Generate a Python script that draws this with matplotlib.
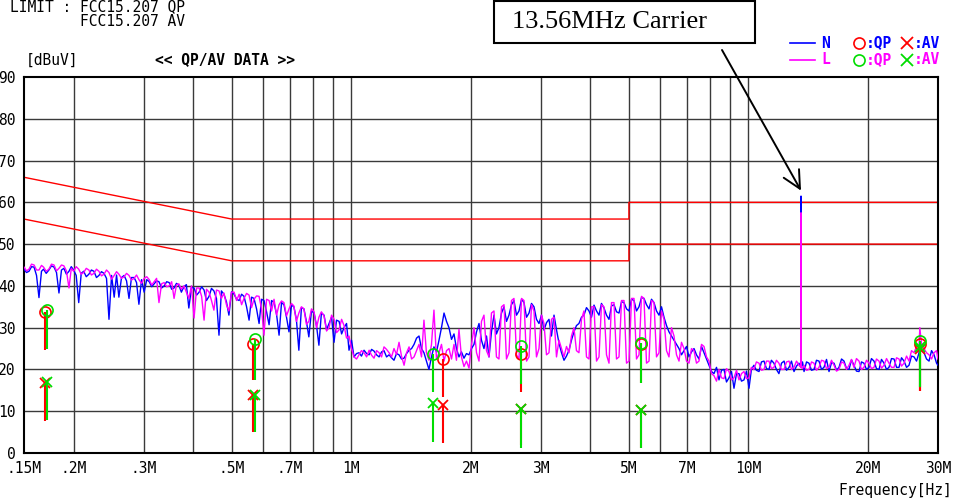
import matplotlib
matplotlib.use("Agg")
import matplotlib.pyplot as plt
from matplotlib.patches import Rectangle
from matplotlib.ticker import NullLocator

# ---- conducted emission scan, frequencies in MHz, levels in dBuV ----
FREQ = [
    # 0.15 - 1 MHz
    0.150, 0.1522, 0.1544, 0.1567, 0.159, 0.1613, 0.1636, 0.166, 0.168, 0.1706,
    0.1733, 0.1759, 0.1785, 0.1811, 0.1837, 0.1864, 0.189, 0.1918, 0.1947, 0.1973,
    0.200, 0.203, 0.206, 0.209, 0.212, 0.2152, 0.2185, 0.2217, 0.225, 0.2283,
    0.2316, 0.235, 0.2385, 0.242, 0.2455, 0.2492, 0.253, 0.2565, 0.260, 0.264,
    0.268, 0.2718, 0.2757, 0.2797, 0.284, 0.288, 0.292, 0.2965, 0.301, 0.3055,
    0.310, 0.3145, 0.319, 0.3235, 0.328, 0.333, 0.338, 0.343, 0.348, 0.353,
    0.358, 0.363, 0.368, 0.3735, 0.379, 0.3845, 0.390, 0.396, 0.402, 0.408,
    0.414, 0.420, 0.426, 0.432, 0.4385, 0.4447, 0.451, 0.4577, 0.4645, 0.471,
    0.478, 0.485, 0.492, 0.4995, 0.507, 0.5145, 0.522, 0.5295, 0.537, 0.545,
    0.553, 0.561, 0.569, 0.5775, 0.586, 0.5945, 0.603, 0.612, 0.621, 0.630,
    0.639, 0.6485, 0.658, 0.6675, 0.677, 0.687, 0.697, 0.707, 0.717, 0.7275,
    0.738, 0.749, 0.760, 0.771, 0.782, 0.794, 0.806, 0.8175, 0.829, 0.841,
    0.854, 0.8665, 0.879, 0.892, 0.905, 0.918, 0.932, 0.9455, 0.959, 0.973,
    0.987, 1.0015,
    # 1 - 2 MHz
    1.016, 1.031, 1.046, 1.061, 1.077, 1.093, 1.109, 1.125, 1.141, 1.158,
    1.175, 1.192, 1.209, 1.227, 1.245, 1.263, 1.281, 1.300, 1.319, 1.338,
    1.358, 1.378, 1.398, 1.4185, 1.439, 1.460, 1.481, 1.5025, 1.524, 1.546,
    1.569, 1.592, 1.615, 1.639, 1.663, 1.687, 1.712, 1.737, 1.762, 1.788,
    1.814, 1.840, 1.867, 1.894, 1.922, 1.950, 1.979, 2.008,
    # 2 - 3.6 MHz
    2.037, 2.067, 2.097, 2.127, 2.158, 2.190, 2.222, 2.254, 2.287, 2.320,
    2.354, 2.389, 2.424, 2.459, 2.495, 2.531, 2.568, 2.606, 2.644, 2.683,
    2.722, 2.762, 2.802, 2.843, 2.884, 2.926, 2.969, 3.012, 3.056, 3.101,
    3.146, 3.192, 3.239, 3.286, 3.334, 3.383, 3.432, 3.482, 3.533, 3.584,
    # 3.6 - 8 MHz
    3.636, 3.689, 3.743, 3.798, 3.853, 3.910, 3.967, 4.025, 4.084, 4.144,
    4.204, 4.265, 4.328, 4.391, 4.455, 4.520, 4.586, 4.653, 4.721, 4.790,
    4.860, 4.931, 5.003, 5.076, 5.150, 5.225, 5.301, 5.378, 5.457, 5.537,
    5.618, 5.700, 5.783, 5.867, 5.953, 6.040, 6.128, 6.218, 6.308, 6.400,
    6.494, 6.589, 6.685, 6.782, 6.881, 6.982, 7.084, 7.187, 7.292, 7.398,
    7.506, 7.616, 7.727, 7.840, 7.955, 8.071,
    # 8 - 10 MHz
    8.188, 8.308, 8.429, 8.552, 8.676, 8.803, 8.932, 9.062, 9.194, 9.329,
    9.465, 9.603, 9.742, 9.885, 10.03, 10.17,
    # 10 - 13.7 MHz (carrier)
    10.32, 10.47, 10.63, 10.78, 10.94, 11.10, 11.26, 11.42, 11.59, 11.76,
    11.93, 12.11, 12.29, 12.47, 12.65, 12.83, 13.02, 13.21, 13.40,
    13.55, 13.56, 13.57, 13.68,
    # 13.8 - 30 MHz
    13.80, 14.00, 14.20, 14.41, 14.62, 14.83, 15.05, 15.27, 15.49, 15.72,
    15.95, 16.18, 16.42, 16.66, 16.90, 17.15, 17.40, 17.65, 17.91, 18.17,
    18.43, 18.70, 18.98, 19.25, 19.53, 19.82, 20.11, 20.40, 20.70, 21.00,
    21.31, 21.62, 21.94, 22.26, 22.58, 22.91, 23.25, 23.59, 23.93, 24.28,
    24.64, 25.00, 25.36, 25.73, 26.11, 26.49, 26.88, 27.0, 27.27, 27.67,
    28.07, 28.48, 28.90, 29.32, 29.75, 30.0,
]

LEVEL_N = [
    44, 43.2, 43.5, 44.6, 44.5, 42.5, 37.2, 43.5, 44, 43,
    43.8, 44.8, 44.5, 43.2, 38.3, 43.8, 44.2, 42.8, 43.5, 44.6,
    43.8, 42.5, 36, 43, 43.5, 42.2, 42.8, 43.8, 43.5, 42,
    42.5, 43.4, 43, 41.8, 32, 42.5, 37.3, 42.6, 37.3, 42,
    42.5, 41.2, 37, 42, 42, 40.8, 35.6, 41.5, 38.5, 41.5,
    41, 39.8, 40.5, 41.2, 41, 39.5, 40, 41, 40.8, 39.2,
    39.5, 40.6, 40.2, 38.5, 39.8, 40.3, 34.7, 39.6, 39.5, 37.8,
    38.5, 39.8, 39, 36.5, 37.5, 39.4, 38.8, 37, 28.2, 38.8,
    38, 36.2, 33, 38.6, 38, 36.8, 36.5, 38, 37.5, 35,
    31.8, 37.3, 37, 34.5, 31, 36.8, 36.5, 33.8, 30.7, 36.5,
    36, 33.2, 28.2, 36, 35.5, 32.5, 29, 35.4, 35, 32,
    24.6, 34.8, 34.5, 31.5, 27.8, 34, 33.5, 30.5, 25.8, 33.5,
    33, 29.5, 31, 32.5, 26.5, 31.8, 31.5, 28.5, 30, 31,
    24.6, 27,
    23, 23.8, 24, 23.2, 24.6, 23.8, 23.5, 24.8, 24.4, 23.5,
    23, 24.2, 24.5, 23, 23.5, 22.8, 22.2, 23.8, 23.5, 22.5,
    22.7, 23.8, 24.6, 25, 26, 27.5, 28, 25, 24, 22,
    20, 23, 25.4, 24.2, 27, 30, 33.5, 31.5, 30, 27.2,
    28.5, 25, 23, 24.2, 22.7, 23.8, 23.5, 25,
    26, 29, 31, 27, 25, 28, 23, 29, 33, 28.5,
    30, 33.5, 35, 31.5, 33, 35.5, 36.5, 33, 34, 36.8,
    36, 32.5, 33.5, 35.8, 35, 32, 31, 33, 29.4, 31.2,
    32, 28, 33, 29.5, 26.3, 24, 22.2, 23.2, 24.6, 27,
    29, 30.5, 31, 32.5, 33, 34.8, 34, 32.5, 35.4, 34,
    33, 35.8, 34.7, 33, 32, 35.2, 35.5, 33.8, 33.5, 36.2,
    36, 34.5, 34, 36.8, 36.5, 34, 35, 37.2, 37, 35.5,
    34.5, 36.8, 36, 34, 33, 35, 32.5, 30.5, 29, 28,
    27, 26, 25, 23.5, 24.5, 25.5, 23, 24.2, 25, 23.5,
    22.5, 25.5, 24, 22.5, 21, 19.5,
    19, 20.5, 17.5, 19.8, 20, 17, 18, 19.5, 15.5, 19,
    19, 17.2, 17.5, 19.6, 15.5, 20,
    21, 19.8, 19.5, 21.8, 22, 20.2, 20, 22.2, 21.5, 20,
    19, 21.5, 22, 19.8, 20.5, 22, 19.5, 20.8, 21.5,
    20.5, 61.5, 20.5, 21.8,
    19.5, 21.8, 21.5, 19.8, 20, 22.2, 22, 20, 20.5, 22.4,
    19.5, 21.6, 21.5, 19.8, 20.5, 22.5, 22, 20.2, 20, 22.3,
    21, 19.6, 19.5, 21.8, 21.5, 20, 20.5, 22.6, 22, 20.2,
    20, 22.4, 21.5, 20, 20.5, 22.6, 22.5, 20.5, 20.5, 22.8,
    22, 20.5, 21, 23.2, 23, 22, 24, 26, 24.5, 24,
    22.5, 22, 24.5, 23.5, 21.5, 21,
]

LEVEL_L = [
    44.5, 43.6, 44, 45.2, 45, 43.8, 43.8, 44.9, 44.5, 43.5,
    44, 45.2, 45, 43.6, 44.2, 45, 44.8, 43.6, 39.5, 44.2,
    43.5, 44.6, 44, 42.8, 43.2, 44.2, 43.8, 42.6, 43, 44,
    43.5, 42.4, 42.8, 43.8, 43.2, 41.6, 42.5, 43.4, 42.8, 41.8,
    42.2, 43, 42.5, 41.4, 41.8, 42.6, 41.5, 40.6, 41.8, 42.2,
    41.5, 40.2, 41, 41.8, 36, 40.5, 40.8, 39.8, 40, 41,
    37, 40.2, 40.5, 39.2, 40, 38.5, 37, 40, 32.3, 39.5,
    39.5, 37.5, 31.8, 39.2, 38.5, 36.5, 34.2, 39, 38.8, 37,
    38.3, 35.5, 34, 38.5, 38.5, 36.5, 38, 35.5, 37, 38.2,
    37.8, 34.8, 36.8, 37.6, 37.5, 34.5, 28.2, 36.8, 36.5, 34,
    36.8, 33, 35.5, 36.4, 36, 32.8, 34.5, 35.8, 35.2, 31.5,
    33.5, 35, 34.5, 30.8, 31.5, 34.5, 33.8, 30, 32.5, 33.8,
    32.8, 29.2, 30, 33, 32, 28.8, 29.5, 32, 30.5, 27.5,
    28, 25,
    23, 22.5, 23.5, 24.5, 24, 23, 24.6, 23.4, 22.7, 24.5,
    24, 23, 25.4, 24.8, 24, 23, 25, 23.6, 26.5, 23.2,
    21, 24, 25.4, 22.5, 23, 24.5, 26, 23, 31.8, 24,
    22.2, 26, 34.2, 22.5, 24, 26, 22, 24.5, 25, 22.5,
    26, 22.2, 29.6, 23, 20.7, 22, 20.3, 26,
    30, 24, 22, 31.5, 33, 24.5, 23, 33.5, 34, 23,
    22.5, 35, 35.5, 22.5, 24, 36.5, 37, 23.5, 22.5, 37,
    36.5, 22, 23, 35.5, 34, 23, 25, 33, 31, 23.5,
    24, 32, 32.5, 23, 27, 25, 23, 25.5, 24, 28,
    30, 24.5, 24, 32, 34, 23, 22.5, 35, 35, 22,
    23, 35.5, 35, 23.5, 21.5, 36, 36, 22.5, 23, 36.5,
    36.5, 21.5, 22, 37, 37, 22.5, 23.5, 37.5, 37, 21.5,
    22, 36.5, 36, 23, 24, 34, 32, 24.5, 23, 30,
    28, 23.5, 22, 26.5, 25, 22, 21.5, 25, 24.5, 21.5,
    22, 26, 25.5, 23, 22, 19,
    18.5, 17.2, 20, 18, 17.8, 20.2, 19.5, 17.5, 18, 19.8,
    17.5, 19, 19.5, 17.8, 18, 20.5,
    20, 21.8, 21.5, 19.8, 20, 22, 22, 20.2, 20.5, 22.2,
    21.5, 20, 20, 21.8, 22, 20, 20.5, 22, 21,
    20.5, 57.5, 20.5, 20.2,
    21, 19.8, 20, 21.8, 21.5, 19.8, 20.5, 22.2, 22, 20.2,
    20.5, 22.2, 21, 19.6, 20, 21.8, 21.5, 20, 21, 22.4,
    20.5, 22.6, 22, 20, 20.5, 22.2, 21.5, 20.2, 20.5, 22.5,
    22, 20.3, 21, 22.6, 21.5, 20.5, 20.5, 22.8, 22.5, 20.8,
    21.5, 23.2, 22, 24.5, 24, 25.5, 25.5, 30, 26, 25,
    24, 23.5, 22.5, 24, 24.5, 22.5,
]

# FCC 15.207 limits
LIM_F = [0.15, 0.5, 5.0, 5.0, 30.0]
LIM_QP = [66, 56, 56, 60, 60]
LIM_AV = [56, 46, 46, 50, 50]

# final measurements: value and bottom of the bar under each mark
N_F = [0.1694, 0.567, 1.704, 2.67, 5.35, 27.0]
N_QP = [33.8, 26.1, 22.5, 23.8, 26.0, 26.1]
N_QP_BASE = [24.6, 17.5, 13.4, 14.7, 16.7, 14.9]
N_AV = [16.8, 14.0, 11.5, 10.5, 10.3, 25.0]
N_AV_BASE = [7.7, 5.1, 2.4, 1.9, 1.1, 14.9]

L_F = [0.1712, 0.571, 1.609, 2.67, 5.36, 27.05]
L_QP = [34.2, 27.3, 23.7, 25.7, 26.3, 26.9]
L_QP_BASE = [24.8, 17.5, 14.7, 16.5, 16.7, 15.8]
L_AV = [17.0, 14.0, 11.9, 10.5, 10.3, 25.3]
L_AV_BASE = [8.0, 5.1, 2.7, 1.2, 1.1, 15.8]

XT = [0.15, 0.2, 0.3, 0.5, 0.7, 1, 2, 3, 5, 7, 10, 20, 30]
XT_LABELS = [".15M", ".2M", ".3M", ".5M", ".7M", "1M", "2M", "3M",
             "5M", "7M", "10M", "20M", "30M"]
GRID_F = [0.2, 0.3, 0.4, 0.5, 0.6, 0.7, 0.8, 0.9, 1, 2, 3, 4, 5, 6, 7, 8, 9, 10, 20]
YT = [0, 10, 20, 30, 40, 50, 60, 70, 80, 90]

BLUE = "#0000ff"
MAG = "#ff00ff"
RED = "#ff0000"
GREEN = "#00dd00"
MONO = "DejaVu Sans Mono"
FS = 10.5

fig = plt.figure(figsize=(9.54, 5.0), dpi=100)
ax = fig.add_axes([24 / 954, 47 / 500, 914 / 954, 376 / 500])
ax.set_xscale("log")
ax.set_xlim(0.15, 30)
ax.set_ylim(0, 90)

for f in GRID_F:
    ax.axvline(f, color="#3a3a3a", lw=1.0, zorder=1)
for y in YT[1:-1]:
    ax.axhline(y, color="#3a3a3a", lw=1.0, zorder=1)

ax.plot(LIM_F, LIM_QP, color=RED, lw=1.0, zorder=2)
ax.plot(LIM_F, LIM_AV, color=RED, lw=1.0, zorder=2)

ax.plot(FREQ, LEVEL_N, color=BLUE, lw=1.0, zorder=3)
ax.plot(FREQ, LEVEL_L, color=MAG, lw=1.0, zorder=4)

def marks(freq, qp, qp_base, av, av_base, color, z):
    ax.vlines(freq, qp_base, qp, color=color, lw=1.5, zorder=z)
    ax.vlines(freq, av_base, av, color=color, lw=1.5, zorder=z)
    ax.plot(freq, qp, ls="none", marker="o", ms=8, mfc="none", mec=color, mew=1.2, zorder=z)
    ax.plot(freq, av, ls="none", marker="x", ms=7.5, mec=color, mew=1.3, zorder=z)

marks(N_F, N_QP, N_QP_BASE, N_AV, N_AV_BASE, RED, 5)
marks(L_F, L_QP, L_QP_BASE, L_AV, L_AV_BASE, GREEN, 6)

ax.set_xticks(XT)
ax.set_xticklabels(XT_LABELS, family=MONO, fontsize=FS)
ax.xaxis.set_minor_locator(NullLocator())
ax.set_yticks(YT)
ax.set_yticklabels([str(v) for v in YT], family=MONO, fontsize=FS)
ax.tick_params(length=0, pad=6)
for s in ax.spines.values():
    s.set_color("black")
    s.set_linewidth(1.5)

# carrier arrow
ax.annotate("", xy=(13.56, 62.8), xytext=(722, 450), textcoords="figure pixels",
            arrowprops=dict(arrowstyle="->,head_length=0.7,head_width=0.35",
                            color="black", lw=1.4, shrinkA=0, shrinkB=0,
                            mutation_scale=18),
            annotation_clip=False)

# page furniture in pixel coordinates
ov = fig.add_axes([0, 0, 1, 1])
ov.set_xlim(0, 954)
ov.set_ylim(500, 0)
ov.axis("off")
ov.patch.set_alpha(0)

ov.text(10, 7, "LIMIT : FCC15.207 QP", family=MONO, fontsize=FS, va="center")
ov.text(80, 21, "FCC15.207 AV", family=MONO, fontsize=FS, va="center")
ov.text(26, 60, "[dBuV]", family=MONO, fontsize=FS, va="center")
ov.text(155, 60, "<< QP/AV DATA >>", family=MONO, fontsize=FS, va="center",
        weight="bold")
ov.text(952, 490, "Frequency[Hz]", family=MONO, fontsize=FS, va="center", ha="right")

ov.add_patch(Rectangle((494, 1), 261, 42, fill=True, fc="white", ec="black", lw=1.5))
ov.text(512, 22, "13.56MHz Carrier", family=["Liberation Serif", "DejaVu Serif"],
        fontsize=19, va="center")

for y, line_c, name, mark_c in [(43, BLUE, "N", RED), (60, MAG, "L", GREEN)]:
    ov.plot([790, 815], [y, y], color=line_c, lw=1.2)
    ov.text(821, y, name, family=MONO, fontsize=FS, va="center", color=line_c, weight="bold")
    ov.plot([859], [y], marker="o", ms=8, mfc="none", mec=mark_c, mew=1.2)
    ov.text(866, y, ":QP", family=MONO, fontsize=FS, va="center", color=line_c, weight="bold")
    ov.plot([907], [y], marker="x", ms=8, mec=mark_c, mew=1.3)
    ov.text(914, y, ":AV", family=MONO, fontsize=FS, va="center", color=line_c, weight="bold")

fig.savefig("out.png", dpi=100)
